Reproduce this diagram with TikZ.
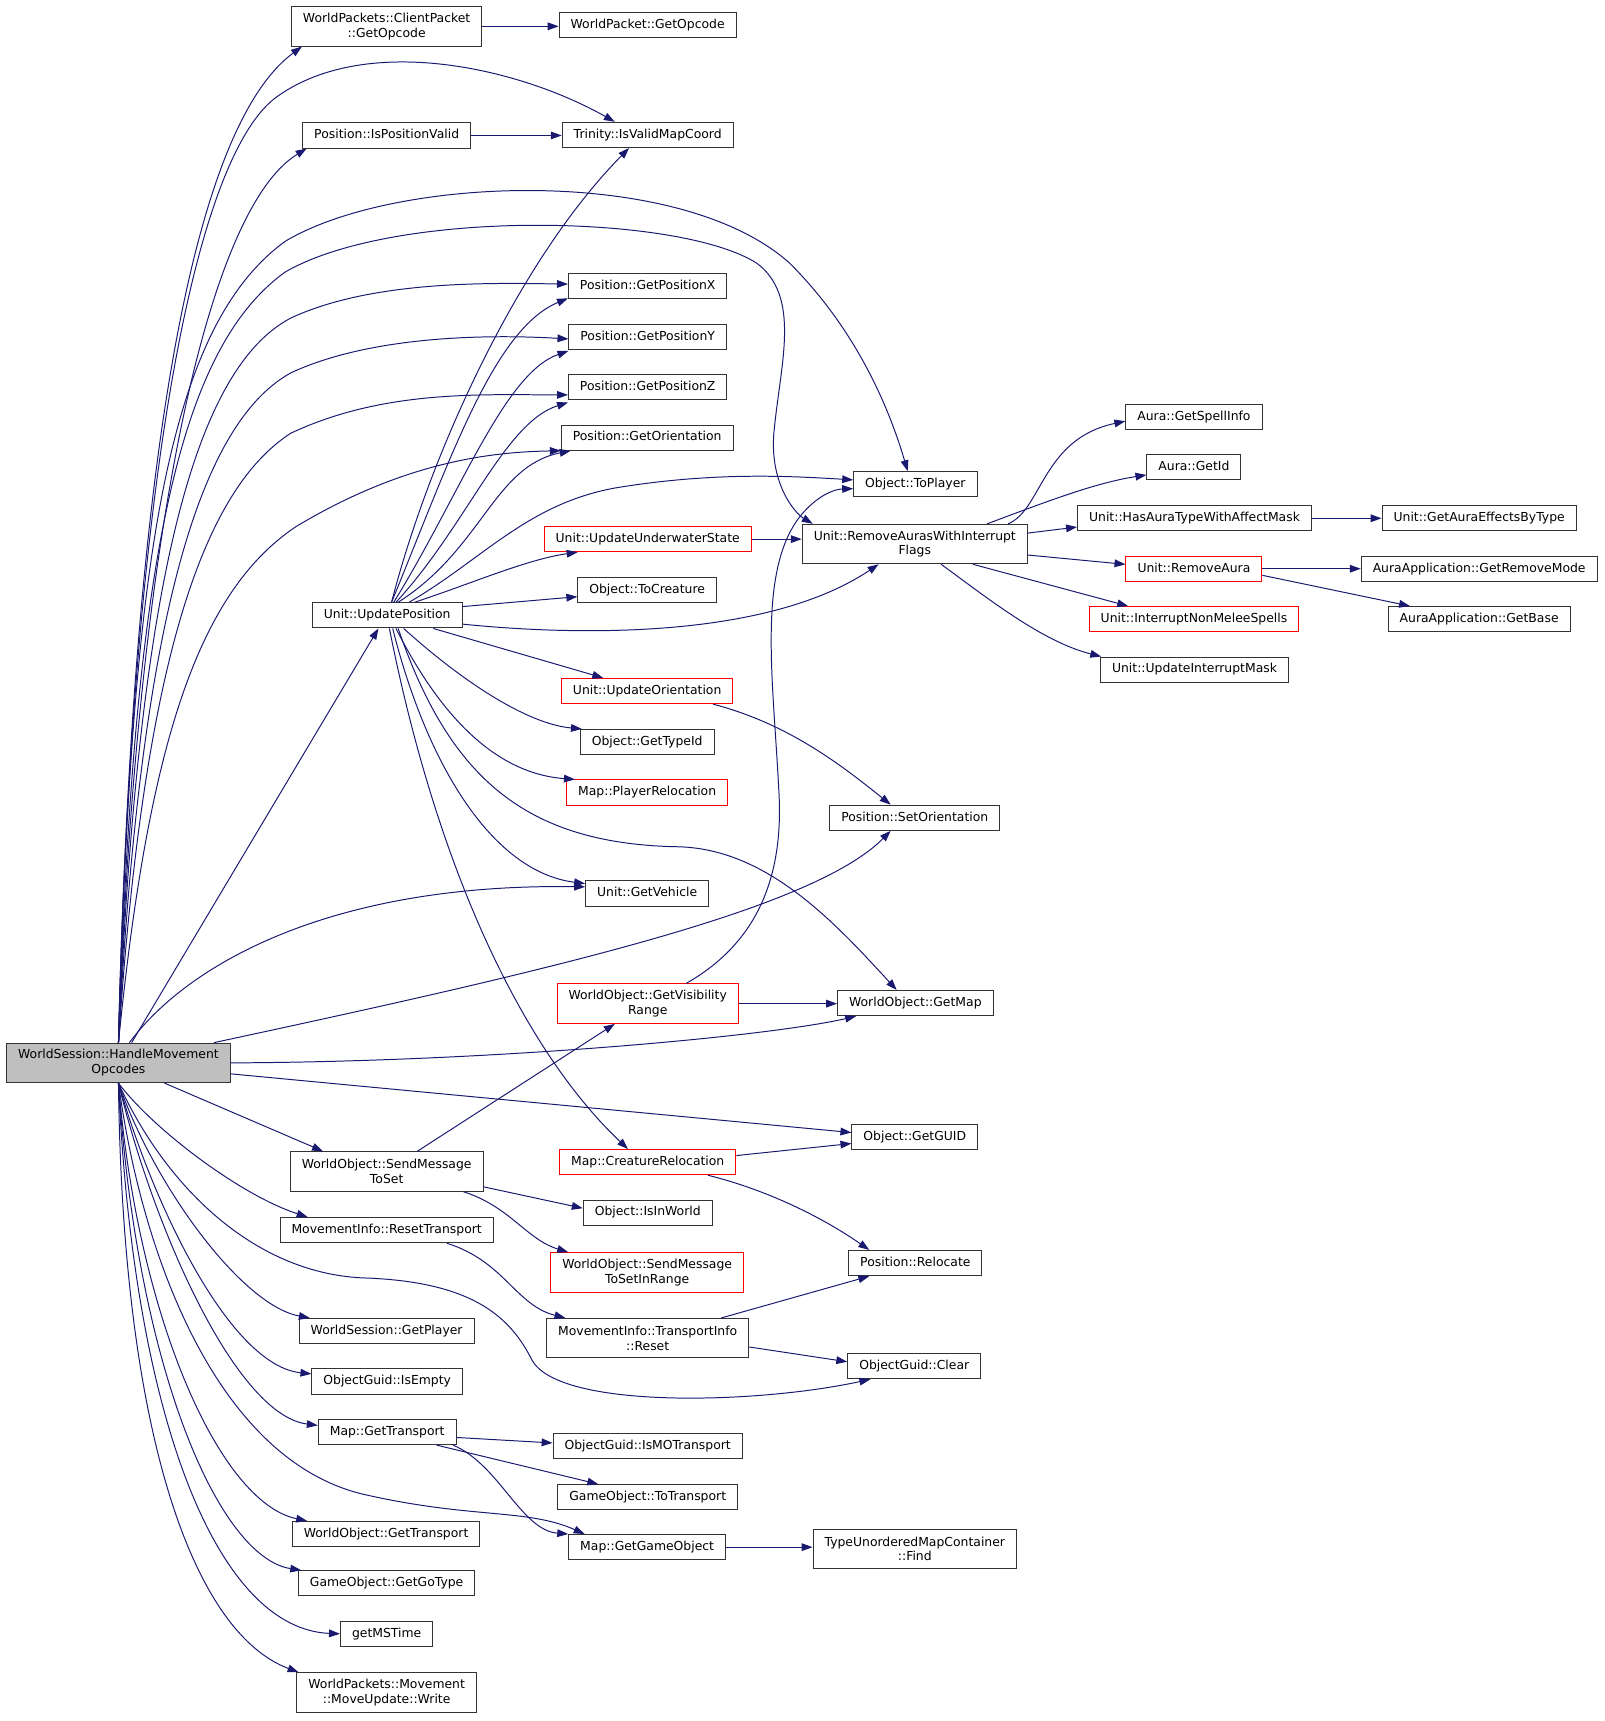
\documentclass[tikz,border=0pt]{standalone}
\usepackage{fontspec}
\setmainfont{DejaVu Sans}
\usetikzlibrary{arrows.meta}
\definecolor{edgeblue}{HTML}{191970}
\begin{document}
\begin{tikzpicture}[x=1pt,y=-1pt,
  fnbox/.style={draw=black!80,line width=.9pt,fill=white,font=\fontsize{11.3}{13.5}\selectfont,inner xsep=10.5pt,inner ysep=0pt,minimum height=23pt,text height=8.5pt,text depth=2.5pt},
  tallbox/.style={fnbox,align=center,text height=,text depth=,minimum height=36pt},
  redbox/.style={fnbox,draw=red},
  rootbox/.style={tallbox,fill=black!25},
  calls/.style={-{Triangle[length=10pt,width=7pt]},draw=edgeblue,line width=.9pt}]
\useasboundingbox (0,0) rectangle (1463,1569);
\node[rootbox] (hmo) at (108,969) {WorldSession::HandleMovement\\Opcodes};
\node[tallbox] (cpop) at (352.5,24) {WorldPackets::ClientPacket\\::GetOpcode};
\node[fnbox] (wpop) at (590.5,23) {WorldPacket::GetOpcode};
\node[fnbox] (ispv) at (352.5,123.5) {Position::IsPositionValid};
\node[fnbox] (ivmc) at (590.5,123) {Trinity::IsValidMapCoord};
\node[fnbox] (gpx) at (590.5,261) {Position::GetPositionX};
\node[fnbox] (gpy) at (590.5,307) {Position::GetPositionY};
\node[fnbox] (gpz) at (590.5,353) {Position::GetPositionZ};
\node[fnbox] (gor) at (590,399) {Position::GetOrientation};
\node[fnbox] (toplr) at (834.5,441.5) {Object::ToPlayer};
\node[tallbox] (raif) at (834,496) {Unit::RemoveAurasWithInterrupt\\Flags};
\node[redbox] (uuws) at (590.5,491.5) {Unit::UpdateUnderwaterState};
\node[fnbox] (tocr) at (590,538) {Object::ToCreature};
\node[fnbox] (upos) at (353,561) {Unit::UpdatePosition};
\node[redbox] (uori) at (590,630) {Unit::UpdateOrientation};
\node[fnbox] (gtid) at (590,676.5) {Object::GetTypeId};
\node[redbox] (prel) at (590,722.5) {Map::PlayerRelocation};
\node[fnbox] (sori) at (834,745.5) {Position::SetOrientation};
\node[fnbox] (gveh) at (590,814.5) {Unit::GetVehicle};
\node[tallbox,draw=red] (gvis) at (590.5,915) {WorldObject::GetVisibility\\Range};
\node[fnbox] (gmap) at (834.5,914.5) {WorldObject::GetMap};
\node[fnbox] (guid) at (834,1036.5) {Object::GetGUID};
\node[redbox] (crel) at (590.5,1059.5) {Map::CreatureRelocation};
\node[tallbox] (sms) at (352.5,1068) {WorldObject::SendMessage\\ToSet};
\node[fnbox] (iiw) at (590.5,1105.5) {Object::IsInWorld};
\node[fnbox] (rtr) at (352.5,1121.5) {MovementInfo::ResetTransport};
\node[tallbox,draw=red] (smsr) at (590,1160) {WorldObject::SendMessage\\ToSetInRange};
\node[fnbox] (reloc) at (834.5,1151.5) {Position::Relocate};
\node[tallbox] (tirs) at (590.5,1220) {MovementInfo::TransportInfo\\::Reset};
\node[fnbox] (gclr) at (833.5,1245.5) {ObjectGuid::Clear};
\node[fnbox] (wsgp) at (352.5,1213.5) {WorldSession::GetPlayer};
\node[fnbox] (isem) at (353,1259.5) {ObjectGuid::IsEmpty};
\node[fnbox] (mgtr) at (353,1305.5) {Map::GetTransport};
\node[fnbox] (imot) at (590.5,1318.5) {ObjectGuid::IsMOTransport};
\node[fnbox] (ttr) at (590.5,1365) {GameObject::ToTransport};
\node[fnbox] (wogt) at (352,1398.5) {WorldObject::GetTransport};
\node[fnbox] (ggo) at (590,1410.5) {Map::GetGameObject};
\node[tallbox] (find) at (834,1412) {TypeUnorderedMapContainer\\::Find};
\node[fnbox] (ggot) at (352.5,1443.5) {GameObject::GetGoType};
\node[fnbox] (mst) at (352.5,1489.5) {getMSTime};
\node[tallbox] (mupd) at (352.5,1543) {WorldPackets::Movement\\::MoveUpdate::Write};
\node[fnbox] (gsi) at (1088.5,380) {Aura::GetSpellInfo};
\node[fnbox] (gid) at (1088.5,426) {Aura::GetId};
\node[fnbox] (hat) at (1089,472.5) {Unit::HasAuraTypeWithAffectMask};
\node[redbox] (raur) at (1088.5,518.5) {Unit::RemoveAura};
\node[redbox] (inms) at (1088.5,564.5) {Unit::InterruptNonMeleeSpells};
\node[fnbox] (uim) at (1089,610.5) {Unit::UpdateInterruptMask};
\node[fnbox] (gaeb) at (1348.5,472.5) {Unit::GetAuraEffectsByType};
\node[fnbox] (grm) at (1348.5,518.5) {AuraApplication::GetRemoveMode};
\node[fnbox] (gbase) at (1348.5,564.5) {AuraApplication::GetBase};
\draw[calls] (hmo.north) .. controls (120,450) and (170,120) .. ([xshift=10]cpop.south west);
\draw[calls] (hmo.north) .. controls (120,450) and (175,150) .. (250,90) .. controls (330,30) and (470,60) .. ([xshift=-30]ivmc.north);
\draw[calls] (hmo.north) .. controls (125,480) and (190,190) .. ([xshift=4]ispv.south west);
\draw[calls] (hmo.north) .. controls (120,520) and (150,300) .. (260,220) .. controls (360,160) and (620,150) .. (720,240) .. controls (780,300) and (810,370) .. ([xshift=-7]toplr.north);
\draw[calls] (hmo.north) .. controls (122,520) and (160,320) .. (260,248) .. controls (360,190) and (620,195) .. (690,240) .. controls (730,270) and (712,330) .. (706,390) .. controls (700,440) and (725,468) .. ([xshift=10]raif.north west);
\draw[calls] (hmo.north) .. controls (125,560) and (170,340) .. (265,290) .. controls (340,255) and (450,258) .. ([yshift=2]gpx.west);
\draw[calls] (hmo.north) .. controls (127,590) and (175,390) .. (265,340) .. controls (340,305) and (450,305) .. ([yshift=-2]gpy.west);
\draw[calls] (hmo.north) .. controls (130,620) and (180,450) .. (265,395) .. controls (350,355) and (440,360) .. ([yshift=-7]gpz.west);
\draw[calls] (hmo.north) .. controls (135,680) and (180,540) .. (270,480) .. controls (370,420) and (450,412) .. (gor.south west);
\draw[calls] ([xshift=12]hmo.north) -- ([xshift=-8]upos.south);
\draw[calls] ([xshift=10]hmo.north) .. controls (170,880) and (300,805) .. ([yshift=6]gveh.west);
\draw[calls] ([xshift=87]hmo.north) .. controls (500,885) and (740,830) .. ([xshift=-22]sori.south);
\draw[calls] (hmo.east) .. controls (450,968) and (700,945) .. ([xshift=-54]gmap.south);
\draw[calls] ([yshift=-10]hmo.east) -- ([yshift=4]guid.west);
\draw[calls] ([xshift=42]hmo.south) -- ([xshift=-58]sms.north);
\draw[calls] (hmo.south) .. controls (140,1030) and (220,1090) .. ([xshift=-72]rtr.north);
\draw[calls] (hmo.south) .. controls (150,1080) and (230,1160) .. (330,1165) .. controls (430,1168) and (465,1200) .. (485,1240) .. controls (510,1285) and (690,1280) .. ([xshift=-40]gclr.south);
\draw[calls] (hmo.south) .. controls (140,1080) and (220,1190) .. ([xshift=-70]wsgp.north);
\draw[calls] (hmo.south) .. controls (140,1100) and (210,1245) .. ([yshift=7]isem.west);
\draw[calls] (hmo.south) .. controls (140,1120) and (215,1290) .. ([yshift=6]mgtr.west);
\draw[calls] (hmo.south) .. controls (130,1150) and (200,1330) .. (330,1362) .. controls (430,1385) and (480,1375) .. ([xshift=15]ggo.north west);
\draw[calls] (hmo.south) .. controls (125,1200) and (200,1370) .. ([xshift=-72]wogt.north);
\draw[calls] (hmo.south) .. controls (125,1250) and (200,1420) .. ([xshift=3]ggot.north west);
\draw[calls] (hmo.south) .. controls (122,1300) and (200,1485) .. (mst.west);
\draw[calls] (hmo.south) .. controls (112,1320) and (180,1490) .. ([xshift=2]mupd.north west);
\draw[calls] ([xshift=4]upos.north) .. controls (390,420) and (470,240) .. ([xshift=-17]ivmc.south);
\draw[calls] ([xshift=4]upos.north) .. controls (410,420) and (450,300) .. ([yshift=1]gpx.south west);
\draw[calls] ([xshift=6]upos.north) .. controls (420,450) and (460,340) .. ([yshift=-1]gpy.south west);
\draw[calls] ([xshift=8]upos.north) .. controls (425,480) and (460,385) .. ([yshift=-2]gpz.south west);
\draw[calls] ([xshift=10]upos.north) .. controls (440,500) and (450,425) .. ([xshift=9]gor.south west);
\draw[calls] ([xshift=20]upos.north) .. controls (440,510) and (480,460) .. (560,445) .. controls (650,430) and (720,434) .. ([yshift=4]toplr.west);
\draw[calls] ([xshift=25]upos.north) .. controls (430,532) and (480,510) .. ([xshift=31]uuws.south west);
\draw[calls] ([yshift=8]upos.east) -- ([yshift=-6]tocr.west);
\draw[calls] ([yshift=-8]upos.east) .. controls (530,580) and (700,582) .. ([xshift=-33]raif.south);
\draw[calls] ([xshift=42]upos.south) -- ([xshift=-40]uori.north);
\draw[calls] ([xshift=15]upos.south) .. controls (420,620) and (480,660) .. ([xshift=2]gtid.north west);
\draw[calls] ([xshift=8]upos.south) .. controls (400,650) and (450,705) .. ([xshift=8]prel.north west);
\draw[calls] ([xshift=5]upos.south) .. controls (390,700) and (450,795) .. ([yshift=-3]gveh.north west);
\draw[calls] ([xshift=10]upos.south) .. controls (410,710) and (480,770) .. (620,772) .. controls (700,775) and (760,840) .. ([xshift=-17]gmap.north);
\draw[calls] ([xshift=2]upos.south) .. controls (400,800) and (480,960) .. ([xshift=-18]crel.north);
\draw[calls] (cpop.east) -- (cpop.east -| wpop.west);
\draw[calls] (ispv.east) -- (ispv.east -| ivmc.west);
\draw[calls] (uuws.east) -- (uuws.east -| raif.west);
\draw[calls] ([xshift=60]uori.south) .. controls (720,660) and (770,700) .. ([xshift=-22]sori.north);
\draw[calls] ([xshift=35]gvis.north) .. controls (690,860) and (715,800) .. (710,720) .. controls (705,620) and (690,520) .. (730,470) .. controls (745,452) and (760,446) .. ([yshift=-4]toplr.west);
\draw[calls] (gvis.east) -- (gvis.east -| gmap.west);
\draw[calls] ([xshift=28]sms.north) -- ([xshift=-30]gvis.south);
\draw[calls] ([yshift=-14]sms.east) -- ([yshift=4]iiw.west);
\draw[calls] ([xshift=70]sms.south) .. controls (465,1100) and (480,1130) .. ([xshift=-72]smsr.north);
\draw[calls] ([xshift=55]rtr.south) .. controls (460,1150) and (470,1190) .. ([xshift=-75]tirs.north);
\draw[calls] ([yshift=6]crel.east) -- ([yshift=-6]guid.west);
\draw[calls] ([xshift=55]crel.south) .. controls (700,1085) and (750,1110) .. ([xshift=-42]reloc.north);
\draw[calls] ([xshift=67]tirs.north) -- ([xshift=-42]reloc.south);
\draw[calls] ([yshift=-8]tirs.east) -- ([yshift=4]gclr.west);
\draw[calls] ([yshift=-5]mgtr.east) -- ([yshift=3]imot.west);
\draw[calls] ([xshift=45]mgtr.south) -- ([xshift=-45]ttr.north);
\draw[calls] ([xshift=60]mgtr.south) .. controls (455,1335) and (475,1395) .. (ggo.north west);
\draw[calls] (ggo.east) -- (ggo.east -| find.west);
\draw[calls] ([xshift=85]raif.north) .. controls (950,465) and (950,400) .. ([yshift=-4]gsi.west);
\draw[calls] ([xshift=66]raif.north) .. controls (960,455) and (1000,440) .. ([yshift=-7]gid.west);
\draw[calls] ([yshift=10]raif.east) -- ([yshift=-8]hat.west);
\draw[calls] ([yshift=-10]raif.east) -- ([yshift=4]raur.west);
\draw[calls] ([xshift=53]raif.south) -- ([xshift=-60]inms.north);
\draw[calls] ([xshift=24]raif.south) .. controls (900,545) and (950,585) .. ([xshift=-85]uim.north);
\draw[calls] (hat.east) -- (gaeb.west);
\draw[calls] (raur.east) -- (grm.west);
\draw[calls] ([yshift=-6]raur.east) -- ([xshift=-63]gbase.north);
\end{tikzpicture}
\end{document}
